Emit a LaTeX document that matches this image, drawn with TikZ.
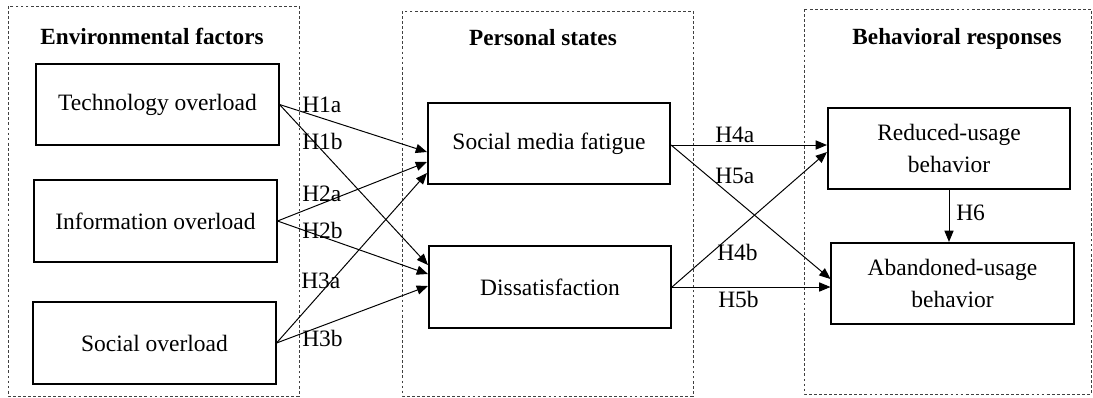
\documentclass[tikz,border=0pt]{standalone}
\usepackage{fontspec}
\setmainfont{Liberation Serif}
\usetikzlibrary{arrows.meta, calc}
\tikzset{
  cbox/.style={rectangle, draw, line width=1.4pt, minimum width=6.05cm,
               minimum height=2.03cm, align=center, inner sep=2pt},
  grp/.style={draw=black!75, line width=0.6pt, dash pattern=on 2pt off 1.6pt},
  gtitle/.style={anchor=base, font=\fontsize{16.5}{22.5}\selectfont\bfseries},
  hlbl/.style={anchor=base west, inner sep=0pt},
  arr/.style={-{Triangle[length=8pt, width=6.5pt]}, line width=0.7pt},
}

\begin{document}
\begin{tikzpicture}[x=0.025cm, y=-0.025cm, every node/.style={font=\fontsize{16.7}{22.5}\selectfont}]
  \useasboundingbox (0,0) rectangle (1093,397);

  % Groups
  \draw[grp] (8,6) rectangle (299,396);
  \draw[grp] (402,11) rectangle (693,396);
  \draw[grp] (804,9) rectangle (1091.5,394);
  \node[gtitle] (envt) at (152,44.5) {Environmental factors};
  \node[gtitle] (pert) at (543,45) {Personal states};
  \node[gtitle] (beht) at (957,44.5) {Behavioral responses};

  % Constructs
  \node[cbox] (tech) at (157.5,104.5) {Technology overload};
  \node[cbox] (info) at (155.5,221) {Information overload};
  \node[cbox] (soc) at (154.5,343) {Social overload};
  \node[cbox] (smf) at (549,143.5) {Social media fatigue};
  \node[cbox] (dis) at (550,287) {Dissatisfaction};
  \node[cbox] (red) at (949,148.5) {Reduced-usage\\behavior};
  \node[cbox] (aba) at (952.5,283.5) {Abandoned-usage\\behavior};
  \coordinate (smfo) at ($(smf.east)+(0,1.5)$);

  % Labels
  \node[hlbl] (h1a) at (302,112) {H1a};
  \node[hlbl] (h1b) at (302,149) {H1b};
  \node[hlbl] (h2a) at (302,201) {H2a};
  \node[hlbl] (h2b) at (302,238) {H2b};
  \node[hlbl] (h3a) at (301,288) {H3a};
  \node[hlbl] (h3b) at (302,346) {H3b};
  \node[hlbl] (h4a) at (715,142) {H4a};
  \node[hlbl] (h5a) at (715,183) {H5a};
  \node[hlbl] (h4b) at (717,260) {H4b};
  \node[hlbl] (h5b) at (718,307) {H5b};
  \node[hlbl] (h6) at (956,220) {H6};

  % Arrows
  \draw[arr] (tech.east) -- ($(smf.west)+(0,8.5)$);
  \draw[arr] (info.east) -- ($(smf.west)+(0,18.5)$);
  \draw[arr] (soc.east) -- ($(smf.west)+(0,29.5)$);
  \draw[arr] (tech.east) -- ($(dis.west)+(0,-22)$);
  \draw[arr] (info.east) -- ($(dis.west)+(0,-13)$);
  \draw[arr] (soc.east) -- ($(dis.west)+(0,-1)$);
  \draw[arr] (smfo) -- (smfo -| red.west);
  \draw[arr] (smfo) -- ($(aba.west)+(0,-4.5)$);
  \draw[arr] (dis.east) -- ($(red.west)+(0,3.5)$);
  \draw[arr] (dis.east) -- (dis.east -| aba.west);
  \draw[arr] (red.south) -- (red.south |- aba.north);
\end{tikzpicture}
\end{document}
